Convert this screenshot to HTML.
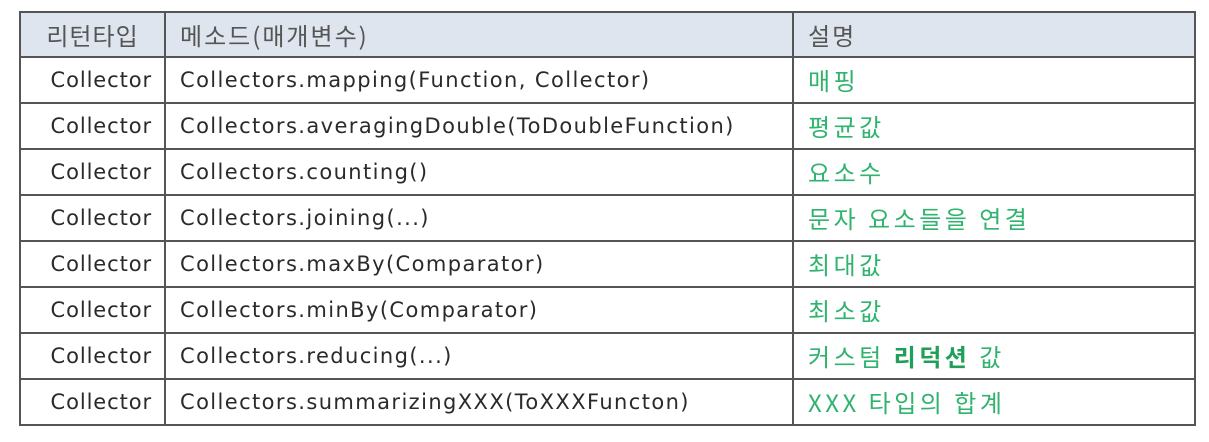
<!DOCTYPE html>
<html><head><meta charset="utf-8"><style>
html,body{margin:0;padding:0;background:#fff;width:1209px;height:442px;overflow:hidden}
table{position:absolute;left:19px;top:11px;border-collapse:collapse;font-family:"DejaVu Sans","Noto Sans CJK KR",sans-serif;font-size:21px;letter-spacing:0.9px;color:#2a2a2a}
td{border:2px solid #555;height:44px;padding:0 0 0 14px;white-space:nowrap;vertical-align:middle;line-height:24px}
tr.h td{background:#dfe5ee;color:#555;height:43px;font-family:"Noto Sans CJK KR",sans-serif;font-size:24px;letter-spacing:2px}
td.c1{width:119px;padding:0 12px 0 12px;text-align:right}
tr.h td.c1{text-align:center;letter-spacing:1px}
td.c2{width:612px;letter-spacing:1.4px}
td.c3{width:386px;color:#2fb36e;font-family:"Noto Sans CJK KR",sans-serif;font-size:24px;letter-spacing:3.5px}
td.c3 b{font-weight:bold;color:#1f9f5a}
</style></head><body>
<table>
<tr class="h"><td class="c1">리턴타입</td><td class="c2">메소드(매개변수)</td><td class="c3" style="color:#555">설명</td></tr>
<tr><td class="c1">Collector</td><td class="c2">Collectors.mapping(Function, Collector)</td><td class="c3">매핑</td></tr>
<tr><td class="c1">Collector</td><td class="c2">Collectors.averagingDouble(ToDoubleFunction)</td><td class="c3">평균값</td></tr>
<tr><td class="c1">Collector</td><td class="c2">Collectors.counting()</td><td class="c3">요소수</td></tr>
<tr><td class="c1">Collector</td><td class="c2">Collectors.joining(...)</td><td class="c3">문자 요소들을 연결</td></tr>
<tr><td class="c1">Collector</td><td class="c2">Collectors.maxBy(Comparator)</td><td class="c3">최대값</td></tr>
<tr><td class="c1">Collector</td><td class="c2">Collectors.minBy(Comparator)</td><td class="c3">최소값</td></tr>
<tr><td class="c1">Collector</td><td class="c2">Collectors.reducing(...)</td><td class="c3">커스텀 <b>리덕션</b> 값</td></tr>
<tr><td class="c1">Collector</td><td class="c2">Collectors.summarizingXXX(ToXXXFuncton)</td><td class="c3">XXX 타입의 합계</td></tr>
</table>
</body></html>
